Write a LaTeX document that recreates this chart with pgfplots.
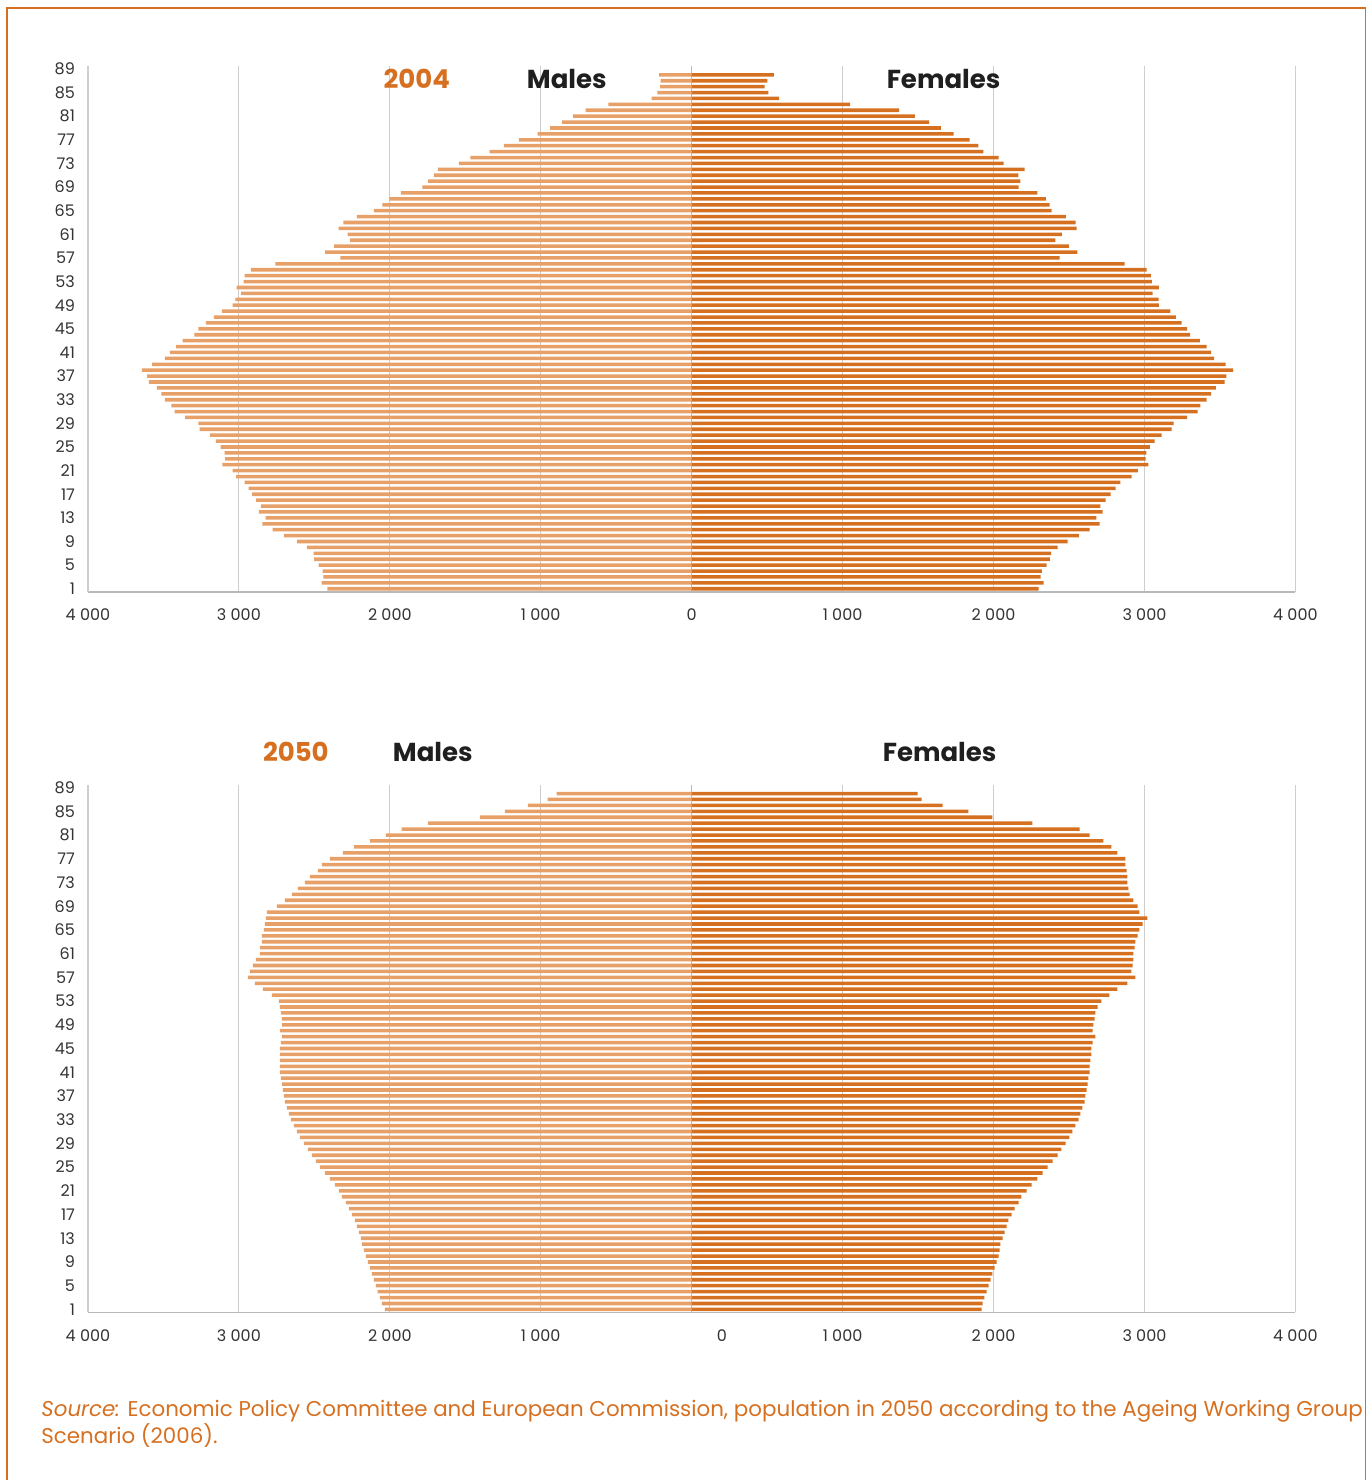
\documentclass[border=0pt]{standalone}
\usepackage{pgfplots}
\usepackage{pgfplotstable}
\usepackage{fontspec}
\pgfplotsset{compat=1.18}
\setmainfont{Poppins}

\definecolor{maleC}{RGB}{230,160,104}
\definecolor{femaleC}{RGB}{213,112,32}
\definecolor{titleC}{RGB}{214,112,32}
\definecolor{gridC}{RGB}{205,205,205}
\definecolor{axisC}{RGB}{185,185,185}

% age, males 2004, females 2004, males 2050, females 2050 (thousands)
\pgfplotstableread{
age m04 f04 m50 f50
1 2413 2298 2033 1921
2 2451 2332 2053 1927
3 2440 2312 2066 1940
4 2445 2321 2080 1954
5 2472 2351 2093 1967
6 2501 2374 2106 1980
7 2504 2382 2119 1993
8 2549 2424 2132 2007
9 2614 2491 2146 2020
10 2702 2566 2159 2033
11 2776 2636 2172 2040
12 2844 2703 2185 2046
13 2823 2681 2192 2060
14 2867 2722 2205 2073
15 2855 2708 2219 2086
16 2885 2742 2232 2099
17 2912 2775 2252 2119
18 2935 2809 2272 2139
19 2962 2840 2291 2166
20 3018 2915 2318 2185
21 3041 2957 2338 2219
22 3109 3026 2364 2252
23 3091 3007 2397 2291
24 3094 3013 2430 2325
25 3121 3035 2464 2358
26 3153 3068 2490 2391
27 3192 3113 2517 2424
28 3260 3180 2543 2450
29 3268 3194 2570 2477
30 3357 3283 2596 2503
31 3425 3353 2616 2523
32 3448 3370 2636 2543
33 3490 3411 2656 2563
34 3513 3442 2669 2576
35 3543 3473 2682 2589
36 3596 3531 2695 2603
37 3608 3542 2702 2609
38 3643 3587 2709 2616
39 3575 3537 2715 2623
40 3490 3462 2722 2629
41 3457 3442 2728 2636
42 3416 3411 2728 2636
43 3372 3367 2728 2642
44 3295 3303 2728 2649
45 3268 3283 2728 2649
46 3218 3247 2722 2656
47 3165 3208 2715 2675
48 3112 3172 2728 2656
49 3041 3096 2715 2662
50 3024 3093 2715 2669
51 2985 3054 2722 2675
52 3015 3096 2728 2689
53 2968 3049 2735 2715
54 2962 3043 2781 2768
55 2920 3015 2841 2821
56 2758 2868 2894 2887
57 2327 2438 2940 2940
58 2428 2555 2927 2914
59 2369 2499 2907 2921
60 2263 2410 2887 2927
61 2280 2452 2861 2927
62 2339 2550 2861 2934
63 2307 2544 2848 2940
64 2218 2480 2848 2954
65 2106 2385 2834 2967
66 2050 2371 2828 2987
67 2003 2346 2821 3020
68 1926 2290 2815 2967
69 1785 2167 2748 2954
70 1746 2178 2695 2927
71 1708 2165 2649 2901
72 1681 2206 2609 2894
73 1543 2067 2563 2887
74 1466 2033 2530 2887
75 1339 1933 2477 2881
76 1245 1900 2450 2874
77 1145 1841 2397 2874
78 1021 1735 2311 2821
79 938 1651 2238 2781
80 858 1573 2132 2728
81 785 1478 2026 2636
82 702 1375 1921 2570
83 552 1049 1748 2258
84 265 580 1404 1993
85 227 508 1238 1834
86 209 483 1086 1662
87 206 502 954 1523
88 215 544 894 1497
}\pyr

\pgfplotsset{
  pyramid/.style={
    scale only axis,
    width=302pt,
    xbar, bar width=0.6,
    ymin=0.5, ymax=89.5,
    xmajorgrids,
    grid style={gridC, line width=0.6pt},
    axis x line*=bottom,
    x axis line style={axisC, line width=0.8pt, -},
    major tick length=0pt,
    tick label style={font=\fontsize{8}{9}\selectfont, text=black!80},
    xticklabel style={yshift=-5pt},
    /pgf/number format/assume math mode=true,
    clip=false,
  },
  maleside/.style={
    pyramid,
    xmin=-4000, xmax=0,
    axis y line*=left,
    y axis line style={gridC, line width=0.6pt, -},
    ytick={1,5,...,89},
    yticklabel style={anchor=east, xshift=-3pt},
  },
  femaleside/.style={
    pyramid,
    xmin=0, xmax=4000,
    axis y line*=left,
    y axis line style={axisC, line width=0.8pt, -},
    ytick=\empty,
    minor ytick={0.5,1.5,...,89.5},
    minor tick length=3pt,
    tick align=outside,
    minor tick style={axisC, line width=0.6pt},
  },
}

\begin{document}
\begin{tikzpicture}
\path (0,0) rectangle (686pt,-740.5pt);
\draw[titleC, line width=0.7pt] (3.5pt,-740.5pt) -- (3.5pt,-4pt) -- (683pt,-4pt) -- (683pt,-740.5pt);

% ---- 2004 ----
\begin{axis}[maleside, at={(44pt,-33pt)}, anchor=north west, height=263pt,
    xtick={-4000,-3000,-2000,-1000,0},
    xticklabels={4~000,3~000,2~000,1~000,0}]
\addplot[fill=maleC, draw=none] table[x expr=-\thisrow{m04}, y=age] {\pyr};
\end{axis}
\begin{axis}[femaleside, at={(346pt,-33pt)}, anchor=north west, height=263pt,
    xtick={1000,2000,3000,4000},
    xticklabels={1~000,2~000,3~000,4~000}]
\addplot[fill=femaleC, draw=none] table[x=f04, y=age] {\pyr};
\end{axis}

% ---- 2050 ----
\begin{axis}[maleside, at={(44pt,-392.5pt)}, anchor=north west, height=264pt,
    xtick={-4000,-3000,-2000,-1000},
    xticklabels={4~000,3~000,2~000,1~000}]
\addplot[fill=maleC, draw=none] table[x expr=-\thisrow{m50}, y=age] {\pyr};
\end{axis}
\begin{axis}[femaleside, at={(346pt,-392.5pt)}, anchor=north west, height=264pt,
    xtick={1000,2000,3000,4000},
    xticklabels={1~000,2~000,3~000,4~000},
    extra x ticks={200}, extra x tick labels={0},
    extra x tick style={grid=none}]
\addplot[fill=femaleC, draw=none] table[x=f50, y=age] {\pyr};
\end{axis}

% titles
\begin{scope}[every node/.style={font=\bfseries\fontsize{13}{15}\selectfont}]
\node[text=titleC] at (208.5pt,-39.5pt) {2004};
\node[text=black!88] at (283.5pt,-39.5pt) {Males};
\node[text=black!88] at (472pt,-39.5pt) {Females};
\node[text=titleC] at (148pt,-376pt) {2050};
\node[text=black!88] at (216.5pt,-376pt) {Males};
\node[text=black!88] at (470pt,-376pt) {Females};
\end{scope}

\node[anchor=north west, align=left, text=titleC, inner sep=0pt,
      font=\fontsize{10.7}{11.7}\selectfont] at (20.5pt,-700pt)
  {\textit{Source:} Economic Policy Committee and European Commission, population in 2050 according to the Ageing Working Group\\Scenario (2006).};
\end{tikzpicture}
\end{document}
